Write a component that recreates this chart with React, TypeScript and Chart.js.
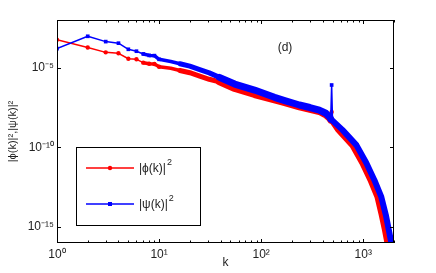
import React, { useEffect, useRef } from 'react';
import { Chart, registerables } from 'chart.js';

Chart.register(...registerables);

// ---- data (k, |phi(k)|^2) and (k, |psi(k)|^2) ----
const phiK = [1, 2, 3, 4, 5, 6, 7, 8, 9, 10, 13, 16, 20, 25, 31, 39, 55, 86, 135, 170, 237, 300, 371, 430, 470, 480, 490, 500, 570, 780, 980, 1175, 1377, 1515, 1630, 1725, 1850];
const phiVal = [5.8e-4, 1.86e-4, 9.3e-5, 8.1e-5, 3.7e-5, 3.4e-5, 2.1e-5, 1.8e-5, 1.74e-5, 1.17e-5, 9.3e-6, 6.8e-6, 4.9e-6, 3.0e-6, 1.9e-6, 1.3e-6, 5.0e-7, 2.1e-7, 9.5e-8, 6.5e-8, 3.5e-8, 2.5e-8, 1.8e-8, 1.1e-8, 6.6e-9, 5.2e-9, 1.7e-8, 4.2e-9, 1.25e-9, 1.4e-10, 1.05e-11, 9.1e-13, 7.8e-14, 5.8e-15, 6.6e-16, 1.0e-16, 1.26e-17];
const psiK = [1, 2, 3, 4, 5, 6, 7, 8, 9, 10, 13, 16, 20, 25, 31, 39, 55, 86, 135, 170, 237, 300, 371, 430, 470, 480, 490, 500, 625, 857, 1072, 1283, 1502, 1663, 1779, 1883, 2000];
const psiVal = [1.6e-4, 9.5e-4, 4.4e-4, 3.5e-4, 1.45e-4, 1.1e-4, 7.4e-5, 6.0e-5, 5.8e-5, 3.4e-5, 2.5e-5, 1.8e-5, 1.26e-5, 7.6e-6, 4.8e-6, 2.5e-6, 9.5e-7, 4.0e-7, 1.4e-7, 8.7e-8, 4.6e-8, 3.2e-8, 2.2e-8, 1.4e-8, 7.9e-9, 6.0e-9, 8.3e-7, 4.8e-9, 1.26e-9, 1.4e-10, 1.05e-11, 9.1e-13, 7.8e-14, 5.8e-15, 6.6e-16, 1.0e-16, 1.26e-17];

const seriesNames = ['|ϕ(k)|', '|ψ(k)|'];
const seriesExp = '2';
const seriesColors = ['#ff0000', '#0000ff'];
const xTickValues = [1, 10, 100, 1000];
const xTickLabels = ['10⁰', '10¹', '10²', '10³'];
const yTickValues = [1e-15, 1e-10, 1e-5];
const yTickLabels = ['10⁻¹⁵', '10⁻¹⁰', '10⁻⁵'];
const xTitle = 'k';
const yTitle = '|ϕ(k)|²,|ψ(k)|²';
const panelLabel = '(d)';
const spikeK = 490;

const FONT = "'Liberation Sans', Arial, Helvetica, sans-serif";
const TEXT = '#222222';

function labelFor(values: number[], labels: string[], v: number) {
  const i = values.findIndex((t) => Math.abs(Math.log10(t) - Math.log10(v)) < 1e-6);
  return i >= 0 ? labels[i] : '';
}

function segWidth(k0: number, k1: number) {
  if (k0 === spikeK || k1 === spikeK) return 1.5;
  if (k0 < 7) return 1.5;
  if (k0 < 16) return 3.5;
  if (k0 < 35) return 5;
  if (k0 < 500) return 7;
  return 6;
}

const decorPlugin = {
  id: 'decor',
  afterDatasetsDraw(chart: any) {
    const { ctx, chartArea: a, scales } = chart;
    ctx.save();
    ctx.strokeStyle = '#000';
    ctx.lineWidth = 1;
    // frame
    ctx.strokeRect(a.left + 0.5, a.top + 0.5, a.right - a.left - 1, a.bottom - a.top - 1);
    // x ticks (inward, top and bottom)
    const xs = scales.x;
    ctx.beginPath();
    for (const d of xTickValues) {
      for (let m = 1; m < 10; m++) {
        const v = d * m;
        if (v > xs.max) break;
        const px = Math.round(xs.getPixelForValue(v)) + 0.5;
        const len = m === 1 ? 4 : 2.5;
        ctx.moveTo(px, a.bottom);
        ctx.lineTo(px, a.bottom - len);
        ctx.moveTo(px, a.top);
        ctx.lineTo(px, a.top + len);
      }
    }
    // y ticks (inward, left and right)
    const ys = scales.y;
    for (const v of yTickValues) {
      const py = Math.round(ys.getPixelForValue(v)) + 0.5;
      ctx.moveTo(a.left, py);
      ctx.lineTo(a.left + 4, py);
      ctx.moveTo(a.right, py);
      ctx.lineTo(a.right - 4, py);
    }
    ctx.stroke();

    // panel label
    ctx.fillStyle = TEXT;
    ctx.font = `12px ${FONT}`;
    ctx.textAlign = 'center';
    ctx.textBaseline = 'middle';
    ctx.fillText(panelLabel, 285, 48);

    // legend box
    const L = 76, T = 147, R = 200, B = 225;
    ctx.fillStyle = '#fff';
    ctx.fillRect(L, T, R - L, B - T);
    ctx.strokeStyle = '#000';
    ctx.lineWidth = 1;
    ctx.strokeRect(L + 0.5, T + 0.5, R - L, B - T);
    const rows = [168, 204];
    seriesNames.forEach((name, i) => {
      const y = rows[i];
      ctx.strokeStyle = seriesColors[i];
      ctx.lineWidth = 1.5;
      ctx.beginPath();
      ctx.moveTo(86, y);
      ctx.lineTo(134, y);
      ctx.stroke();
      ctx.fillStyle = seriesColors[i];
      if (i === 0) {
        ctx.beginPath();
        ctx.arc(110, y, 2.2, 0, Math.PI * 2);
        ctx.fill();
      } else {
        ctx.fillRect(108, y - 2, 4, 4);
      }
      ctx.fillStyle = TEXT;
      ctx.font = `12px ${FONT}`;
      ctx.textAlign = 'left';
      ctx.textBaseline = 'middle';
      ctx.fillText(name, 139, y + 1);
      const w = ctx.measureText(name).width;
      ctx.font = `9px ${FONT}`;
      ctx.fillText(seriesExp, 139 + w + 1, y - 5);
    });
    ctx.restore();
  },
};

export default function App() {
  const ref = useRef<HTMLCanvasElement | null>(null);

  useEffect(() => {
    if (!ref.current) return;
    const mk = (ks: number[], vals: number[]) => ks.map((k, i) => ({ x: k, y: vals[i] }));
    const pointR = (ctx: any) => {
      const k = ctx.raw ? ctx.raw.x : 0;
      return k <= 10 || k === spikeK ? 2.2 : 0;
    };
    const chart = new Chart(ref.current, {
      type: 'line',
      data: {
        datasets: [
          {
            label: seriesNames[0],
            data: mk(phiK, phiVal),
            borderColor: seriesColors[0],
            backgroundColor: seriesColors[0],
            pointStyle: 'circle',
            pointRadius: pointR,
            pointBorderWidth: 0,
            borderWidth: 1.5,
            borderCapStyle: 'round',
            borderJoinStyle: 'round',
            segment: { borderWidth: (c: any) => segWidth(c.p0.parsed.x, c.p1.parsed.x) },
            clip: 0,
            order: 1,
          },
          {
            label: seriesNames[1],
            data: mk(psiK, psiVal),
            borderColor: seriesColors[1],
            backgroundColor: seriesColors[1],
            pointStyle: 'rect',
            pointRadius: (c: any) => (pointR(c) ? 2.6 : 0),
            pointBorderWidth: 0,
            borderWidth: 1.5,
            borderCapStyle: 'round',
            borderJoinStyle: 'round',
            segment: { borderWidth: (c: any) => segWidth(c.p0.parsed.x, c.p1.parsed.x) },
            clip: 0,
            order: 0,
          },
        ],
      } as any,
      options: {
        responsive: false,
        animation: false,
        events: [],
        layout: { padding: { left: 0, top: 20, right: 42, bottom: 0 } },
        plugins: { legend: { display: false }, tooltip: { enabled: false } },
        scales: {
          x: {
            type: 'logarithmic',
            min: 1,
            max: 2000,
            grid: { display: false, drawTicks: false },
            border: { display: false },
            afterBuildTicks: (s: any) => {
              s.ticks = xTickValues.map((v) => ({ value: v }));
            },
            afterFit: (s: any) => {
              s.height = 30;
            },
            ticks: {
              autoSkip: false,
              maxRotation: 0,
              padding: 4,
              color: TEXT,
              font: { family: FONT, size: 12 },
              callback: (v: any) => labelFor(xTickValues, xTickLabels, Number(v)),
            },
            title: {
              display: true,
              text: xTitle,
              color: TEXT,
              font: { family: FONT, size: 12 },
              padding: { top: 0, bottom: 3 },
            },
          },
          y: {
            type: 'logarithmic',
            min: 1e-16,
            max: 1e-2,
            grid: { display: false, drawTicks: false },
            border: { display: false },
            afterBuildTicks: (s: any) => {
              s.ticks = yTickValues.map((v) => ({ value: v }));
            },
            afterFit: (s: any) => {
              s.width = 57;
            },
            ticks: {
              autoSkip: false,
              padding: 3,
              color: TEXT,
              font: { family: FONT, size: 12 },
              callback: (v: any) => labelFor(yTickValues, yTickLabels, Number(v)),
            },
            title: {
              display: true,
              text: yTitle,
              color: TEXT,
              font: { family: FONT, size: 11 },
              padding: { top: 6, bottom: 0 },
            },
          },
        },
      } as any,
      plugins: [decorPlugin],
    });
    return () => chart.destroy();
  }, []);

  return (
    <div style={{ position: 'fixed', left: 0, top: 0, width: 436, height: 273, background: '#fff' }}>
      <canvas ref={ref} width={436} height={273} style={{ display: 'block', width: 436, height: 273 }} />
    </div>
  );
}
